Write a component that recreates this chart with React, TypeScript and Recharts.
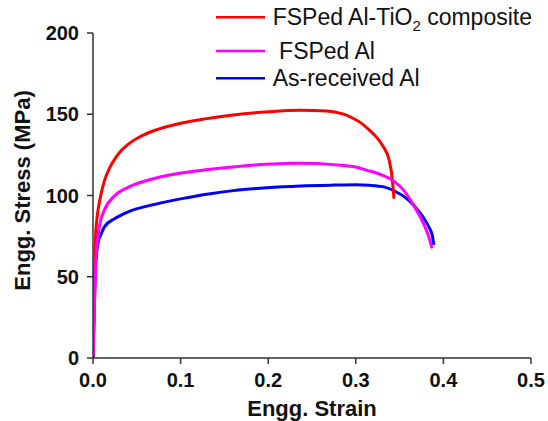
import React from 'react';
import { LineChart, Line, XAxis, YAxis, Legend, Label } from 'recharts';

const FONT = 'Arial, "Liberation Sans", sans-serif';

// strain / stress pairs
const compositeStrain = [0, 0.001, 0.002, 0.003, 0.005, 0.0077, 0.013, 0.019, 0.025, 0.032, 0.04, 0.055, 0.07, 0.1, 0.13, 0.16, 0.2, 0.237, 0.267, 0.285, 0.295, 0.305, 0.315, 0.325, 0.332, 0.338, 0.341, 0.3425, 0.3436];
const compositeStress = [0, 30, 58, 75, 88, 97, 109, 117, 122.5, 127.5, 131.5, 136.5, 140, 144.5, 147.3, 149.6, 151.5, 152.4, 152, 150.2, 148, 145, 140.5, 135, 129.5, 122, 113, 105, 98];

const fspStrain = [0, 0.001, 0.002, 0.003, 0.004, 0.0077, 0.013, 0.025, 0.04, 0.07, 0.109, 0.16, 0.198, 0.237, 0.275, 0.3, 0.313, 0.33, 0.343, 0.355, 0.366, 0.377, 0.383, 0.387];
const fspStress = [0, 22, 40, 55, 66, 82, 91, 100, 105, 110.5, 114.5, 117.6, 119.2, 119.8, 119, 117.5, 115.5, 112.5, 109, 103, 94, 83, 75, 67.4];

const asRecStrain = [0, 0.001, 0.002, 0.0027, 0.004, 0.0057, 0.0095, 0.013, 0.025, 0.04, 0.07, 0.109, 0.13, 0.16, 0.198, 0.237, 0.275, 0.3, 0.315, 0.332, 0.345, 0.356, 0.366, 0.377, 0.384, 0.3875, 0.389];
const asRecStress = [0, 18, 40, 55, 64, 70.6, 76.6, 80.7, 85.8, 89.9, 94.5, 98.8, 100.8, 103, 104.8, 105.9, 106.4, 106.6, 106.3, 105.3, 102.5, 99, 94, 86.5, 80, 75, 69.5];

const xTicks = [0, 0.1, 0.2, 0.3, 0.4, 0.5];
const yTicks = [0, 50, 100, 150, 200];

const seriesNames = ['FSPed Al-TiO2 composite', ' FSPed Al', 'As-received Al'];
const seriesColors = ['#ff0000', '#ff00ff', '#0000ff'];

const toPoints = (xs: number[], ys: number[]) => xs.map((x, i) => ({ x, y: ys[i] }));

const compositeData = toPoints(compositeStrain, compositeStress);
const fspData = toPoints(fspStrain, fspStress);
const asRecData = toPoints(asRecStrain, asRecStress);

// turns "TiO2" into TiO with a subscript 2
const renderName = (name: string) => {
  const idx = name.indexOf('TiO2');
  if (idx < 0) return <tspan xmlSpace="preserve">{name}</tspan>;
  return (
    <>
      <tspan>{name.slice(0, idx + 3)}</tspan>
      <tspan dy={6} fontSize={15}>2</tspan>
      <tspan dy={-6}>{' ' + name.slice(idx + 5).trim()}</tspan>
    </>
  );
};

const rowY = [17.3, 51, 78.3];

const LegendBox = () => (
  <svg width={548} height={100} style={{ display: 'block', overflow: 'visible' }}>
    {seriesNames.map((name, i) => (
      <g key={name}>
        <line x1={216} x2={265} y1={rowY[i]} y2={rowY[i]} stroke={seriesColors[i]} strokeWidth={2.5} />
        <text
          x={272.7}
          y={rowY[i] + 7.8}
          fontSize={23}
          fontFamily={FONT}
          fill="#111"
          style={{ whiteSpace: 'pre' }}
        >
          {renderName(name)}
        </text>
      </g>
    ))}
  </svg>
);

const YTitle = (props: any) => {
  const { viewBox } = props;
  const cx = 30;
  const cy = viewBox.y + viewBox.height / 2 - 5;
  return (
    <text
      x={cx}
      y={cy}
      transform={`rotate(-90, ${cx}, ${cy})`}
      textAnchor="middle"
      fontSize={22}
      fontWeight="bold"
      fontFamily={FONT}
      fill="#111"
    >
      Engg. Stress (MPa)
    </text>
  );
};

const axisColor = '#333';
const tickStyle = { fill: '#111', fontSize: 20, fontWeight: 'bold', fontFamily: FONT };

const App: React.FC = () => {
  return (
    <div style={{ position: 'absolute', left: 0, top: 0, width: 548, height: 421, fontFamily: FONT }}>
      <LineChart width={548} height={421} margin={{ top: 33, right: 17, bottom: 0, left: 0 }}>
        <XAxis
          type="number"
          dataKey="x"
          domain={[0, 0.5]}
          ticks={xTicks}
          tickFormatter={(v: number) => v.toFixed(1)}
          height={63}
          tickSize={6}
          tickMargin={9}
          stroke={axisColor}
          strokeWidth={1.5}
          tick={tickStyle}
          allowDataOverflow
        >
          <Label
            value="Engg. Strain"
            position="insideBottom"
            offset={5}
            fontSize={22}
            fontWeight="bold"
            fontFamily={FONT}
            fill="#111"
          />
        </XAxis>
        <YAxis
          type="number"
          dataKey="y"
          domain={[0, 200]}
          ticks={yTicks}
          width={93}
          tickSize={6}
          tickMargin={8}
          stroke={axisColor}
          strokeWidth={1.5}
          tick={tickStyle}
          allowDataOverflow
        >
          <Label content={YTitle} />
        </YAxis>
        <Legend
          layout="horizontal"
          verticalAlign="middle"
          align="center"
          wrapperStyle={{ left: 0, top: 0, width: 548, height: 100 }}
          content={() => <LegendBox />}
        />
        <Line data={asRecData} dataKey="y" name={seriesNames[2]} type="monotone" stroke={seriesColors[2]} strokeWidth={3} dot={false} isAnimationActive={false} />
        <Line data={compositeData} dataKey="y" name={seriesNames[0]} type="monotone" stroke={seriesColors[0]} strokeWidth={3} dot={false} isAnimationActive={false} />
        <Line data={fspData} dataKey="y" name={seriesNames[1]} type="monotone" stroke={seriesColors[1]} strokeWidth={3} dot={false} isAnimationActive={false} />
      </LineChart>
    </div>
  );
};

export default App;
